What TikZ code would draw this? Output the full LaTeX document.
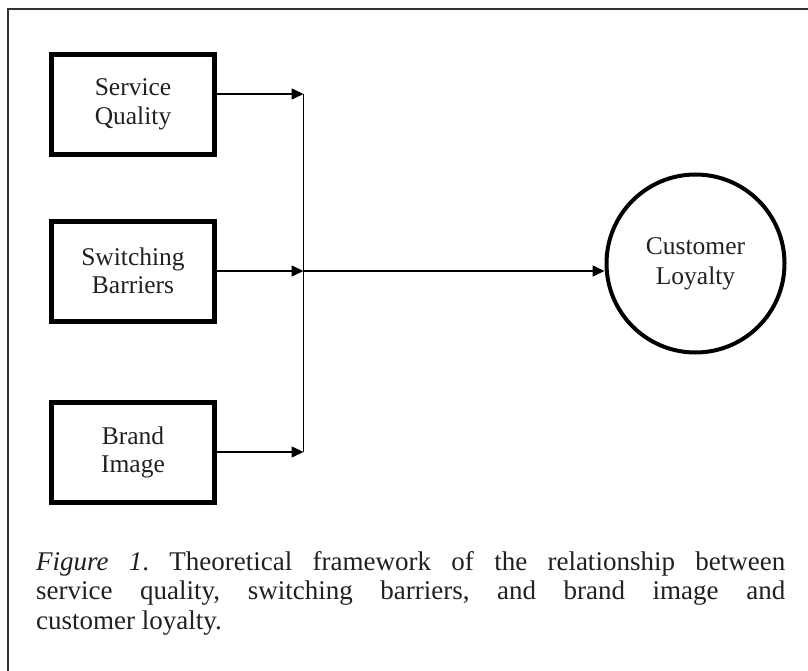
\documentclass[tikz,border=0pt]{standalone}
\usepackage{fontspec}
\setmainfont{Liberation Serif}
\usetikzlibrary{arrows.meta}
\definecolor{ink}{RGB}{35,31,32}
\tikzset{
  factor/.style={draw=black, line width=5pt, minimum width=163pt, minimum height=100pt,
    inner sep=0pt, align=center, text=ink, font=\fontsize{25.5}{28.5}\selectfont},
  outcome/.style={draw=black, circle, line width=4pt, minimum size=178pt, inner sep=0pt,
    align=center, text=ink, font=\fontsize{25.5}{30}\selectfont},
  conn/.style={line width=1.5pt, draw=black},
  arr/.style={conn, -{Triangle[length=12pt,width=11pt]}},
  frameline/.style={line width=1.5pt, draw=black!80}
}
\begin{document}
\begin{tikzpicture}[x=1pt,y=-1pt]
\useasboundingbox (0,0) rectangle (808,671);
\draw[frameline] (8,671) -- (8,9) -- (808,9);
\node[factor] (SQ) at (133,104.5) {Service\\Quality};
\node[factor] (SB) at (133,271) {Switching\\Barriers};
\node[factor] (BI) at (133,452.5) {Brand\\Image};
\node[outcome] (CL) at (695.5,263.5) {Customer\\Loyalty};
\coordinate (j1) at (303.5,94);
\coordinate (j2) at (303.5,271);
\coordinate (j3) at (303.5,452);
\draw[conn] (j1) -- (j3);
\draw[arr] (SQ.east |- j1) -- (j1);
\draw[arr] (SB.east) -- (j2);
\draw[arr] (BI.east |- j3) -- (j3);
\draw[arr] (j2) -- (j2 -| CL.west);
\node[anchor=north west, inner sep=0pt, text width=749pt, align=justify, text=ink,
  font=\fontsize{27}{29.5}\selectfont] (cap) at (36,551)
  {\frenchspacing\hyphenpenalty=10000\tolerance=10000\emph{Figure 1}. Theoretical framework of the relationship between\linebreak
   service quality, switching barriers, and brand image and\linebreak customer loyalty.};
\end{tikzpicture}
\end{document}
